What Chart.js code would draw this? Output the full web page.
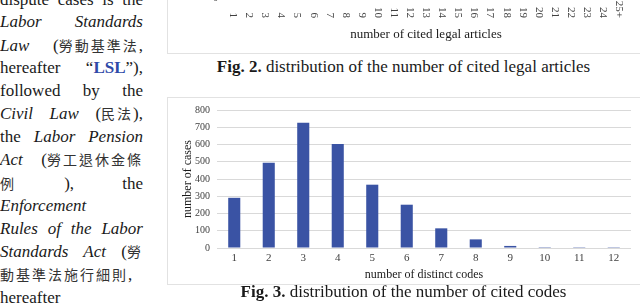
<!DOCTYPE html>
<html>
<head>
<meta charset="utf-8">
<script src="https://cdn.jsdelivr.net/npm/chart.js@4"></script>
<style>
  html, body { margin: 0; padding: 0; background: #fff; }
  body { width: 640px; height: 304px; position: relative; overflow: hidden; font-family: 'Liberation Serif', serif; color: #1a1a1a; }
  .col { position: absolute; left: 0; top: -11px; width: 143px; font-size: 17px; line-height: 22.45px; }
  .col div { text-align: justify; text-align-last: justify; white-space: nowrap; }
  .col div.l { text-align-last: left; }
  .col i { font-style: italic; }
  .cjk { display: inline-block; font-family: 'Noto Sans CJK TC', sans-serif; font-size: 14px; letter-spacing: 2px; color: #333; }
  .lsl { color: #2f4aa8; font-weight: bold; }
  .frame { position: absolute; border: 1px solid #e2e2e2; }
  .cap { position: absolute; left: 167px; width: 473px; text-align: center; font-size: 17px; }
  canvas { position: absolute; }
</style>
</head>
<body>
<div class="col">
  <div>dispute cases is the</div>
  <div><i>Labor Standards</i></div>
  <div><i>Law</i> (<span class="cjk">勞動基準法</span>,</div>
  <div>hereafter “<span class="lsl">LSL</span>”),</div>
  <div>followed by the</div>
  <div><i>Civil Law</i> (<span class="cjk">民法</span>),</div>
  <div>the <i>Labor Pension</i></div>
  <div><i>Act</i> (<span class="cjk">勞工退休金條</span></div>
  <div><span class="cjk">例</span> ), the</div>
  <div class="l"><i>Enforcement</i></div>
  <div><i>Rules of the Labor</i></div>
  <div><i>Standards Act</i> (<span class="cjk">勞</span></div>
  <div><span class="cjk">動基準法施行細則</span>,</div>
  <div class="l">hereafter</div>
</div>

<div class="frame" style="left:167px; top:-10px; width:480px; height:62px;"></div>
<div class="frame" style="left:167px; top:97px; width:480px; height:186px;"></div>

<div style="position:absolute; left:167px; top:-150px; width:473px; height:203px;">
  <canvas id="fig2"></canvas>
</div>
<div style="position:absolute; left:167px; top:97px; width:473px; height:186px;">
  <canvas id="fig3"></canvas>
</div>

<div class="cap" style="top:57px;"><b>Fig. 2.</b> distribution of the number of cited legal articles</div>
<div class="cap" style="top:282px;"><b>Fig. 3.</b> distribution of the number of cited codes</div>

<script>
const articleLabels = ['1', '2', '3', '4', '5', '6', '7', '8', '9', '10', '11', '12', '13',
  '14', '15', '16', '17', '18', '19', '20', '21', '22', '23', '24', '25+'];
const codeLabels = ['1', '2', '3', '4', '5', '6', '7', '8', '9', '10', '11', '12'];
const codeCases = [291, 494, 726, 603, 367, 251, 114, 50, 12, 5, 1, 1];
const caseTickMax = 800;
const caseTickStep = 100;

const serif = 'Liberation Serif';
const tickColor = '#404040';
const gridColor = '#d9d9d9';

// fig. 2 only shows its axis at the top of the page; labels read top-to-bottom
const verticalTicks = {
	id: 'verticalTicks',
	afterDraw( chart ) {
		const scale = chart.scales.x;
		const ctx = chart.ctx;
		ctx.save();
		ctx.font = '11px "' + serif + '"';
		ctx.fillStyle = tickColor;
		ctx.textAlign = 'right';
		ctx.textBaseline = 'middle';
		articleLabels.forEach( ( label, i ) => {
			ctx.save();
			ctx.translate( scale.getPixelForValue( i ), scale.top + 20 );
			ctx.rotate( Math.PI / 2 );
			ctx.fillText( label, 0, 0 );
			ctx.restore();
		} );
		ctx.restore();
	},
};

new Chart( document.getElementById( 'fig2' ), {
	type: 'bar',
	data: {
		labels: articleLabels,
		datasets: [ { data: [], backgroundColor: '#3a53a4' } ],
	},
	plugins: [ verticalTicks ],
	options: {
		responsive: true,
		maintainAspectRatio: false,
		animation: false,
		layout: { padding: { left: 18, right: 13, top: 0, bottom: 5 } },
		plugins: { legend: { display: false }, tooltip: { enabled: false } },
		scales: {
			x: {
				grid: { display: false, drawTicks: false },
				border: { display: false },
				ticks: { display: false, autoSkip: false },
				title: {
					display: true,
					text: 'number of cited legal articles',
					color: '#1a1a1a',
					font: { family: serif, size: 13 },
					padding: { top: 0, bottom: 6 },
				},
				afterFit( scale ) {
					scale.height = 50;
				},
			},
			y: {
				min: 0,
				grid: { color: gridColor, drawTicks: false },
				border: { display: false },
				ticks: { color: tickColor, padding: 7, font: { family: serif, size: 10 } },
				afterFit( scale ) {
					scale.width = 40;
				},
			},
		},
	},
} );

new Chart( document.getElementById( 'fig3' ), {
	type: 'bar',
	data: {
		labels: codeLabels,
		datasets: [
			{
				data: codeCases,
				backgroundColor: '#3a53a4',
				barPercentage: 0.35,
				categoryPercentage: 1,
			},
		],
	},
	options: {
		responsive: true,
		maintainAspectRatio: false,
		animation: false,
		layout: { padding: { left: 10, right: 9, top: 13, bottom: 0 } },
		plugins: { legend: { display: false }, tooltip: { enabled: false } },
		scales: {
			x: {
				grid: { display: false, drawTicks: false },
				border: { display: false },
				ticks: { color: tickColor, padding: 4, font: { family: serif, size: 11 } },
				title: {
					display: true,
					text: 'number of distinct codes',
					color: '#1a1a1a',
					font: { family: serif, size: 12 },
					padding: { top: 0, bottom: 1 },
				},
				afterFit( scale ) {
					scale.height = 35;
				},
			},
			y: {
				min: 0,
				max: caseTickMax,
				grid: { color: gridColor, drawTicks: false },
				border: { display: false },
				ticks: {
					stepSize: caseTickStep,
					color: tickColor,
					padding: 7,
					font: { family: serif, size: 10 },
				},
				title: {
					display: true,
					text: 'number of cases',
					color: '#1a1a1a',
					font: { family: serif, size: 12 },
					padding: { top: 4, bottom: 0 },
				},
				afterFit( scale ) {
					scale.width = 40;
				},
			},
		},
	},
} );
</script>
</body>
</html>
